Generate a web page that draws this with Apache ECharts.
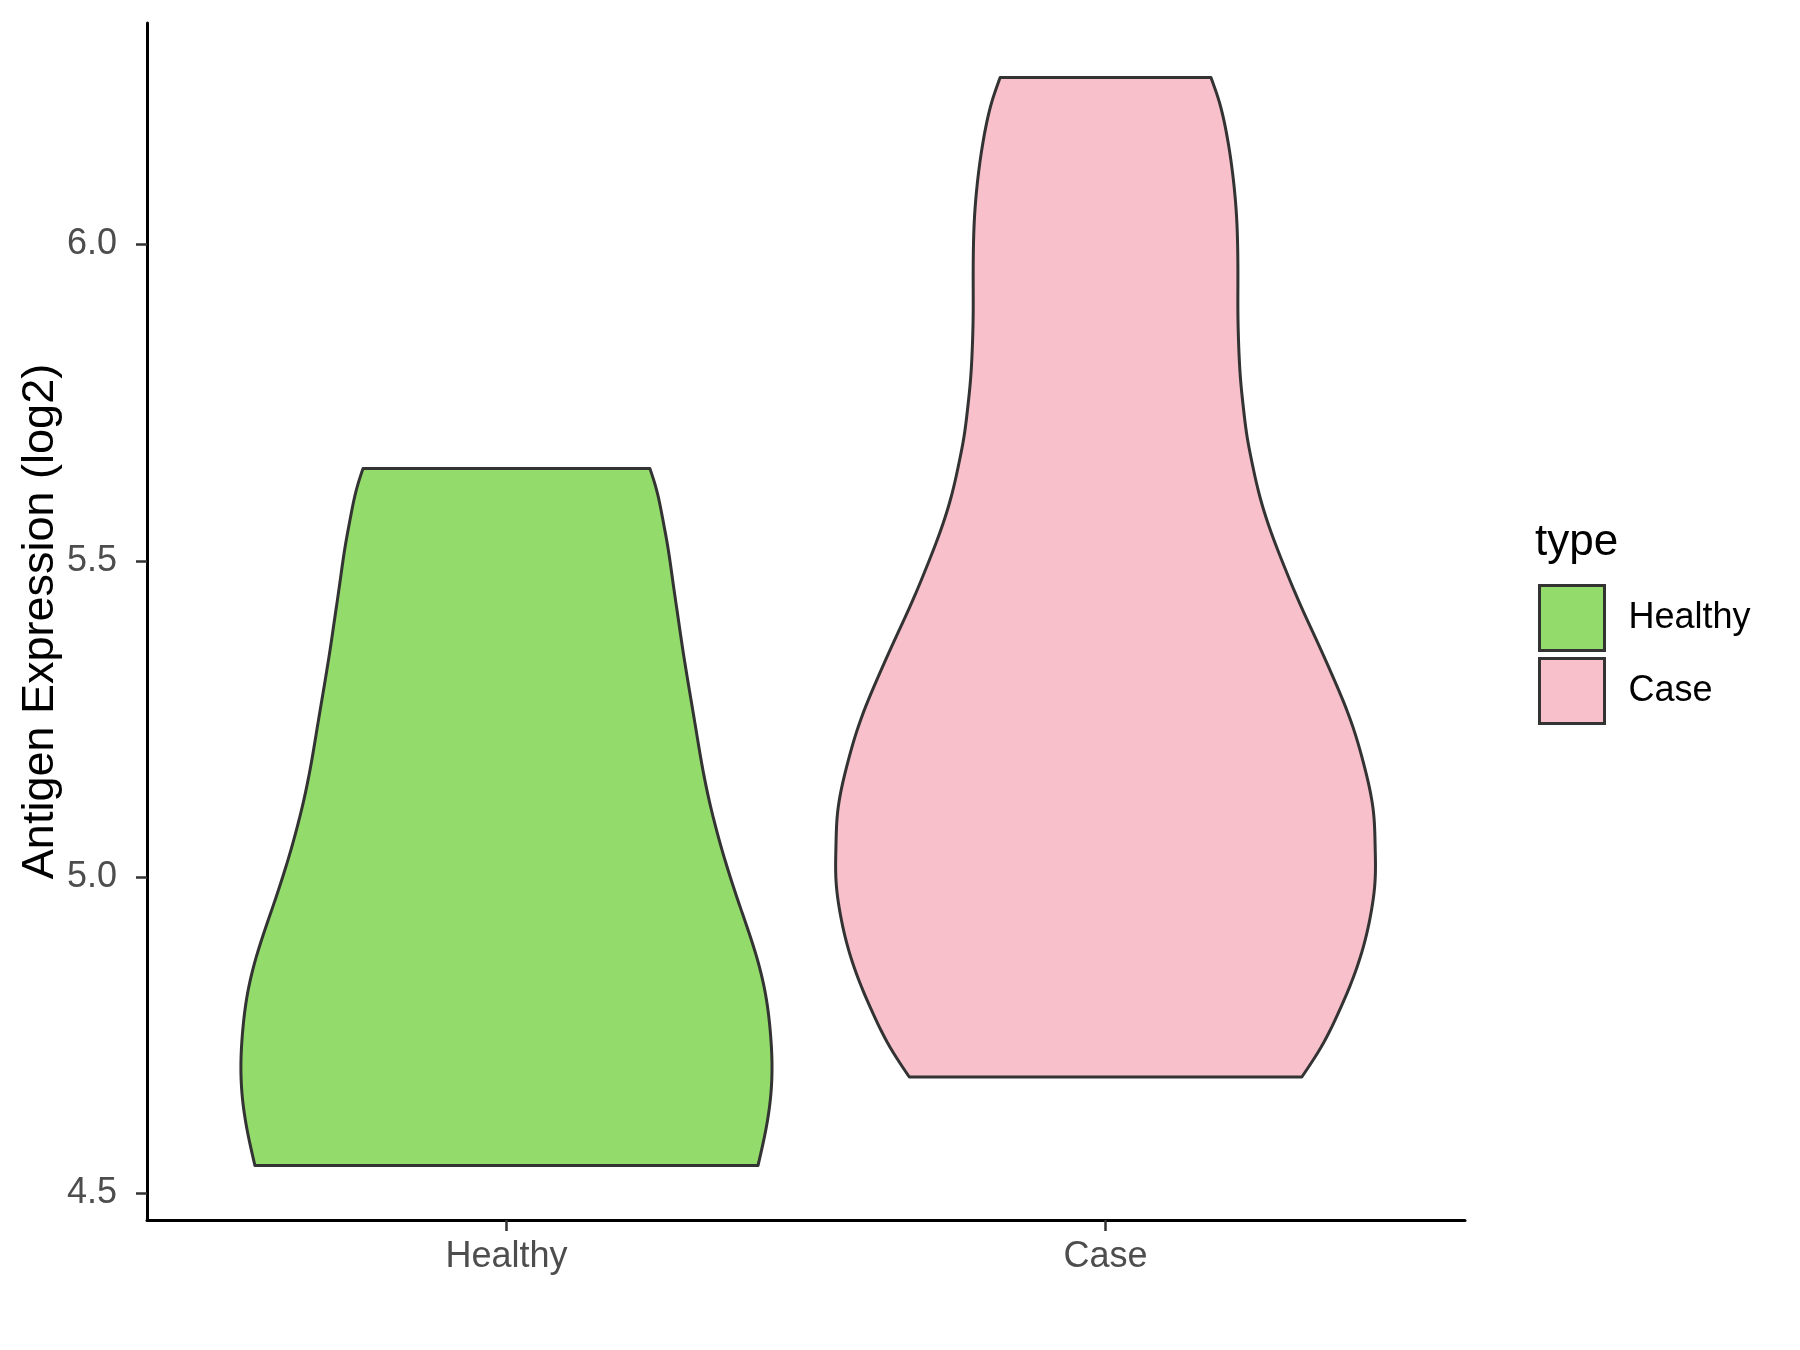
<!DOCTYPE html>
<html>
<head>
<meta charset="utf-8">
<script src="https://cdn.jsdelivr.net/npm/echarts@6/dist/echarts.min.js"></script>
<style>html,body{margin:0;padding:0;background:#fff}#c{width:1800px;height:1350px}</style>
</head>
<body>
<div id="c"></div>
<script>
// ---- data ----
const categories = ['Healthy', 'Case'];
const yTicks = [4.5, 5.0, 5.5, 6.0];
// violin outline: expression values (top -> bottom) and relative density width (max = 1)
const healthyVal = [5.646, 5.618, 5.570, 5.518, 5.465, 5.412, 5.360, 5.307, 5.254, 5.210, 5.149, 5.081, 5.007, 4.944, 4.881, 4.817, 4.754, 4.702, 4.649, 4.596, 4.544];
const healthyWidth = [0.532, 0.553, 0.578, 0.600, 0.618, 0.636, 0.654, 0.674, 0.695, 0.712, 0.738, 0.775, 0.825, 0.874, 0.923, 0.960, 0.979, 0.985, 0.979, 0.960, 0.933];
const caseVal = [6.264, 6.228, 6.186, 6.139, 6.091, 6.044, 5.997, 5.944, 5.891, 5.839, 5.791, 5.739, 5.691, 5.660, 5.602, 5.544, 5.491, 5.428, 5.375, 5.312, 5.249, 5.175, 5.102, 5.049, 4.996, 4.944, 4.891, 4.838, 4.786, 4.733, 4.684];
const caseWidth = [0.391, 0.420, 0.444, 0.463, 0.477, 0.486, 0.490, 0.491, 0.491, 0.494, 0.500, 0.512, 0.527, 0.541, 0.572, 0.615, 0.663, 0.725, 0.782, 0.848, 0.908, 0.960, 0.994, 1.000, 1.000, 0.985, 0.957, 0.916, 0.864, 0.802, 0.728];
const colors = ['#93DB6A', '#F7C0CB'];

const groups = [
  { val: healthyVal, wid: healthyWidth },
  { val: caseVal, wid: caseWidth }
];
const HALF = 0.45;
const allVals = healthyVal.concat(caseVal);
const lo = Math.min.apply(null, allVals), hi = Math.max.apply(null, allVals);
const pad = (hi - lo) * 0.05;

// natural cubic spline through the read outline points (for drawing a smooth edge)
function spline(xsIn, ysIn) {
  const idx = xsIn.map((_, i) => i).sort((a, b) => xsIn[a] - xsIn[b]);
  const x = idx.map(i => xsIn[i]), y = idx.map(i => ysIn[i]);
  const n = x.length, m = new Array(n).fill(0);
  const a = [], b = [], c = [], d = [];
  for (let i = 1; i < n - 1; i++) {
    a.push(x[i] - x[i - 1]);
    b.push(2 * (x[i + 1] - x[i - 1]));
    c.push(x[i + 1] - x[i]);
    d.push(6 * ((y[i + 1] - y[i]) / (x[i + 1] - x[i]) - (y[i] - y[i - 1]) / (x[i] - x[i - 1])));
  }
  const k = b.length;
  for (let i = 1; i < k; i++) {
    const w = a[i] / b[i - 1];
    b[i] -= w * c[i - 1];
    d[i] -= w * d[i - 1];
  }
  const sol = new Array(k);
  for (let i = k - 1; i >= 0; i--) sol[i] = (d[i] - (i < k - 1 ? c[i] * sol[i + 1] : 0)) / b[i];
  for (let i = 0; i < k; i++) m[i + 1] = sol[i];
  return function (t) {
    let i = 0;
    while (i < n - 2 && t > x[i + 1]) i++;
    const h = x[i + 1] - x[i], A = (x[i + 1] - t) / h, B = (t - x[i]) / h;
    return A * y[i] + B * y[i + 1] + ((A * A * A - A) * m[i] + (B * B * B - B) * m[i + 1]) * h * h / 6;
  };
}

function makeSeries(gi) {
  const g = groups[gi];
  const f = spline(g.val, g.wid);
  const vTop = Math.max.apply(null, g.val), vBot = Math.min.apply(null, g.val);
  return {
    type: 'custom',
    name: categories[gi],
    coordinateSystem: 'cartesian2d',
    itemStyle: { color: colors[gi], borderColor: '#333333', borderWidth: 3 },
    data: [[gi + 1, vTop]],
    renderItem: function (params, api) {
      const c = api.value(0);
      const left = [], right = [];
      const N = 200;
      for (let j = 0; j <= N; j++) {
        const v = vTop - (vTop - vBot) * j / N;
        const w = f(v);
        left.push(api.coord([c - HALF * w, v]));
        right.push(api.coord([c + HALF * w, v]));
      }
      return {
        type: 'polygon',
        shape: { points: left.concat(right.reverse()) },
        style: { fill: colors[gi], stroke: '#333333', lineWidth: 3, lineJoin: 'round' }
      };
    }
  };
}

const chart = echarts.init(document.getElementById('c'), null, { renderer: 'canvas' });
const FONT = '"Liberation Sans", Arial, sans-serif';
chart.setOption({
  animation: false,
  backgroundColor: '#ffffff',
  textStyle: { fontFamily: FONT },
  title: {
    text: 'type', left: 1535, top: 521, padding: 0,
    textStyle: { fontFamily: FONT, fontSize: 44, fontWeight: 'normal', color: '#000' }
  },
  legend: {
    orient: 'vertical', left: 1538, top: 584, padding: 0,
    itemWidth: 65, itemHeight: 65, itemGap: 5,
    icon: 'rect',
    data: categories,
    textStyle: { fontFamily: FONT, fontSize: 36, color: '#000', padding: [0, 0, 0, 19] },
    itemStyle: { borderColor: '#333333', borderWidth: 3 }
  },
  grid: { left: 147, right: 335, top: 23, bottom: 130 },
  xAxis: {
    type: 'value', min: 0.4, max: 2.6,
    axisLine: { show: true, lineStyle: { color: '#000', width: 3 } },
    axisTick: { show: true, customValues: [1, 2], length: 11, lineStyle: { color: '#333', width: 2.5 } },
    axisLabel: {
      customValues: [1, 2], margin: 19, fontSize: 36, color: '#4D4D4D', fontFamily: FONT,
      formatter: function (v) { return categories[Math.round(v) - 1] || ''; }
    },
    splitLine: { show: false }
  },
  yAxis: {
    type: 'value', min: lo - pad, max: hi + pad,
    name: 'Antigen Expression (log2)', nameLocation: 'middle', nameGap: 84,
    nameMoveOverlap: false,
    nameTextStyle: { fontFamily: FONT, fontSize: 45, color: '#000' },
    axisLine: { show: true, lineStyle: { color: '#000', width: 3 } },
    axisTick: { show: true, customValues: yTicks, length: 11, lineStyle: { color: '#333', width: 2.5 } },
    axisLabel: {
      customValues: yTicks, margin: 30, fontSize: 36, color: '#4D4D4D', fontFamily: FONT,
      formatter: function (v) { return v.toFixed(1); }
    },
    splitLine: { show: false }
  },
  series: [makeSeries(0), makeSeries(1)]
});
</script>
</body>
</html>
